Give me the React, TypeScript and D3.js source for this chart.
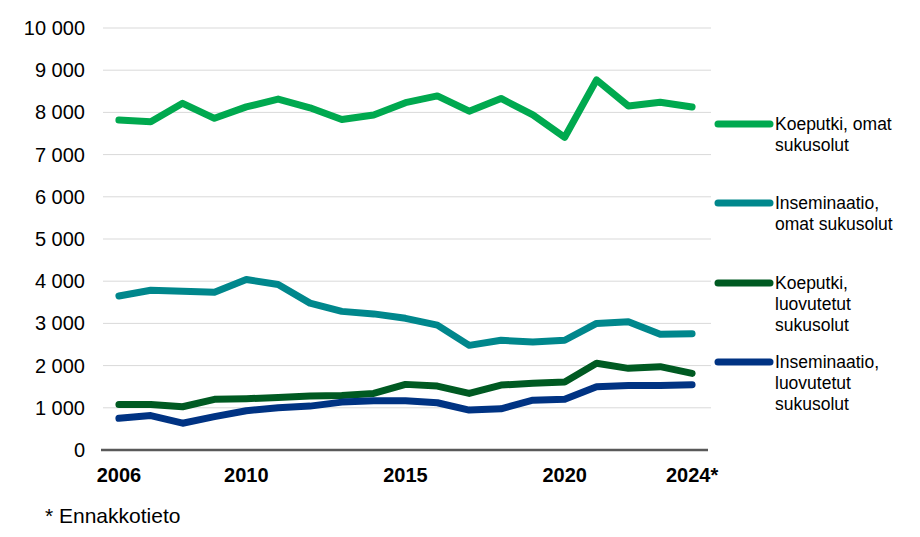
import React from 'react';
import * as d3 from 'd3';

const years = ['2006', '2007', '2008', '2009', '2010', '2011', '2012', '2013', '2014', '2015',
  '2016', '2017', '2018', '2019', '2020', '2021', '2022', '2023', '2024*'];
const shownYears = ['2006', '2010', '2015', '2020', '2024*'];
const yTicks = [0, 1000, 2000, 3000, 4000, 5000, 6000, 7000, 8000, 9000, 10000];

const koeputkiOmat = [7820, 7780, 8215, 7860, 8130, 8315, 8110, 7830, 7940, 8230,
  8390, 8030, 8330, 7940, 7410, 8770, 8150, 8240, 8130];
const inseminaatioOmat = [3650, 3785, 3760, 3740, 4040, 3920, 3480, 3285, 3225, 3120,
  2960, 2480, 2600, 2560, 2600, 3000, 3040, 2740, 2755];
const koeputkiLuovutetut = [1080, 1080, 1025, 1200, 1215, 1245, 1280, 1290, 1340, 1555,
  1515, 1340, 1540, 1580, 1610, 2055, 1935, 1975, 1815];
const inseminaatioLuovutetut = [750, 815, 635, 790, 930, 1000, 1040, 1135, 1165, 1165,
  1120, 945, 975, 1180, 1200, 1500, 1530, 1530, 1545];

const seriesNames = [
  ['Koeputki, omat', 'sukusolut'],
  ['Inseminaatio,', 'omat sukusolut'],
  ['Koeputki,', 'luovutetut', 'sukusolut'],
  ['Inseminaatio,', 'luovutetut', 'sukusolut'],
];
const seriesValues = [koeputkiOmat, inseminaatioOmat, koeputkiLuovutetut, inseminaatioLuovutetut];
const colors = ['#00A94F', '#00878C', '#005A22', '#003383'];

const width = 920;
const height = 537;
const margin = { top: 28, left: 103, right: 212, bottom: 87 };
const font = 'Arial, "Liberation Sans", sans-serif';

const App: React.FC = () => {
  const x = d3.scaleBand<string>()
    .domain(years)
    .range([margin.left, width - margin.right]);
  const y = d3.scaleLinear()
    .domain([0, 10000])
    .range([height - margin.bottom, margin.top]);

  const line = d3.line<number>()
    .x((_, i) => (x(years[i]) as number) + x.bandwidth() / 2)
    .y(d => y(d));

  const fmt = (v: number) => d3.format(',')(v).replace(/,/g, ' ');
  const legendY = [124, 203, 283, 362];

  return (
    <svg width={width} height={height} style={{ position: 'absolute', left: 0, top: 0 }}>
      <rect width={width} height={height} fill="#fff" />
      {yTicks.filter(t => t > 0).map(t => (
        <line key={t} x1={margin.left} x2={width - margin.right + 3} y1={y(t)} y2={y(t)}
          stroke="#d9d9d9" strokeWidth={1} />
      ))}
      {yTicks.map(t => (
        <text key={t} x={85} y={y(t)} dy="0.35em" textAnchor="end"
          fontFamily={font} fontSize={20} fill="#000">{fmt(t)}</text>
      ))}
      {seriesValues.map((vals, i) => (
        <path key={i} d={line(vals) ?? ''} fill="none" stroke={colors[i]}
          strokeWidth={7} strokeLinejoin="round" strokeLinecap="round" />
      ))}
      <line x1={margin.left - 2} x2={width - margin.right} y1={y(0)} y2={y(0)}
        stroke="#595959" strokeWidth={2.5} />
      {shownYears.map(yr => (
        <text key={yr} x={(x(yr) as number) + x.bandwidth() / 2} y={y(0) + 32}
          textAnchor="middle" fontFamily={font} fontSize={20} fontWeight="bold" fill="#000">{yr}</text>
      ))}
      {seriesNames.map((lines, i) => (
        <g key={i}>
          <line x1={718} x2={770} y1={legendY[i]} y2={legendY[i]} stroke={colors[i]}
            strokeWidth={7} strokeLinecap="round" />
          {lines.map((txt, j) => (
            <text key={j} x={775} y={legendY[i] + 6 + j * 21} fontFamily={font}
              fontSize={17.5} fill="#000">{txt}</text>
          ))}
        </g>
      ))}
      <text x={45} y={523} fontFamily={font} fontSize={21} fill="#000">* Ennakkotieto</text>
    </svg>
  );
};

export default App;
